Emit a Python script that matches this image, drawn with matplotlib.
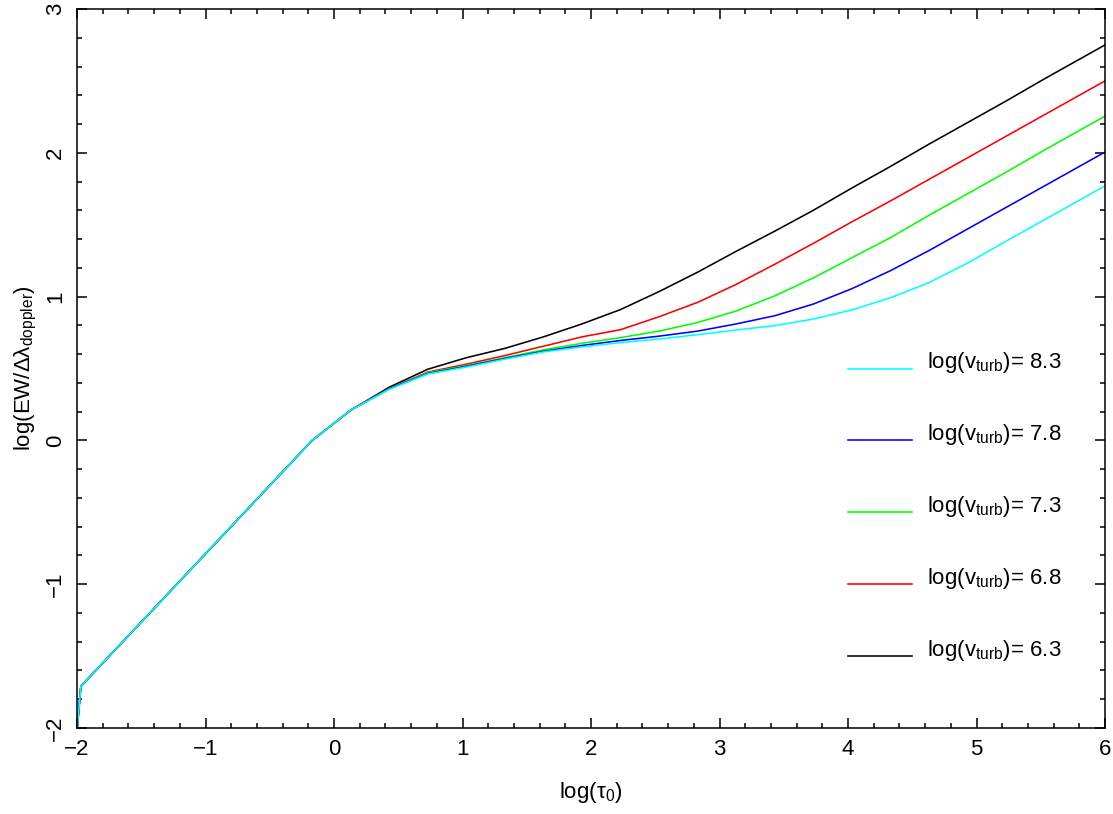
import matplotlib
matplotlib.use("Agg")
import matplotlib.pyplot as plt
from matplotlib.ticker import MultipleLocator

plt.rcParams['font.family'] = ['Liberation Sans', 'DejaVu Sans']
plt.rcParams['mathtext.fontset'] = 'custom'
plt.rcParams['mathtext.rm'] = 'Liberation Sans'
plt.rcParams['mathtext.it'] = 'Liberation Sans:italic'
plt.rcParams['mathtext.default'] = 'rm'

# log(tau_0) grid
log_tau = [-2.00, -1.97, -1.67, -1.37, -1.07, -0.77, -0.47, -0.17, 0.13, 0.43, 0.73,
           1.03, 1.33, 1.63, 1.93, 2.23, 2.53, 2.83, 3.13, 3.43, 3.73, 4.03, 4.33,
           4.63, 4.93, 5.23, 5.53, 5.83, 6.13]

common = [-2.02, -1.71, -1.425, -1.14, -0.855, -0.57, -0.285, 0.00, 0.21]

ew_63 = common + [0.37, 0.495, 0.575, 0.64, 0.72, 0.81, 0.91, 1.035, 1.17, 1.315, 1.455,
                  1.60, 1.755, 1.905, 2.06, 2.21, 2.36, 2.515, 2.665, 2.815]
ew_68 = common + [0.36, 0.475, 0.53, 0.59, 0.655, 0.72, 0.77, 0.86, 0.96, 1.085, 1.225,
                  1.37, 1.52, 1.665, 1.815, 1.965, 2.115, 2.265, 2.415, 2.565]
ew_73 = common + [0.36, 0.47, 0.52, 0.575, 0.63, 0.675, 0.715, 0.76, 0.82, 0.90, 1.005,
                  1.13, 1.27, 1.41, 1.565, 1.715, 1.865, 2.02, 2.17, 2.32]
ew_78 = common + [0.358, 0.465, 0.515, 0.57, 0.62, 0.66, 0.695, 0.725, 0.76, 0.81, 0.867,
                  0.948, 1.055, 1.18, 1.32, 1.47, 1.62, 1.77, 1.92, 2.07]
ew_83 = common + [0.355, 0.462, 0.51, 0.565, 0.615, 0.65, 0.68, 0.705, 0.735, 0.768, 0.798,
                  0.844, 0.907, 0.992, 1.097, 1.233, 1.385, 1.535, 1.685, 1.835]

series = [(ew_63, 'black', '6.3'), (ew_68, '#ff0000', '6.8'), (ew_73, '#00ff00', '7.3'),
          (ew_78, '#0000ff', '7.8'), (ew_83, '#00ffff', '8.3')]

FS = 16

fig = plt.figure(figsize=(11.13, 8.14), dpi=100)
ax = fig.add_axes([77/1113, 1-728/814, (1105-77)/1113, (728-9)/814])

for ys, c, lab in series:
    ax.plot(log_tau, ys, color=c, lw=1.15, solid_joinstyle='miter')

# manual legend
leg_y = [-1.5, -1.0, -0.5, 0.0, 0.5]
for (ys, c, lab), yy in zip(series, leg_y):
    ax.plot([4.0, 4.5], [yy, yy], color=c, lw=1.15)
    ax.text(4.615, yy + 0.04, r'log(v$_{\mathrm{turb}}$)= ' + lab, fontsize=FS,
            va='center', ha='left')

ax.set_xlim(-2, 6)
ax.set_ylim(-2, 3)
ax.xaxis.set_major_locator(MultipleLocator(1))
ax.xaxis.set_minor_locator(MultipleLocator(0.2))
ax.yaxis.set_major_locator(MultipleLocator(1))
ax.yaxis.set_minor_locator(MultipleLocator(0.2))
ax.tick_params(which='both', direction='in', top=True, right=True, width=1.1,
               labelsize=FS)
ax.tick_params(which='major', length=7.2)
ax.tick_params(which='minor', length=3.6)
ax.tick_params(axis='x', pad=8)
ax.tick_params(axis='y', pad=8)
for lbl in ax.get_yticklabels():
    lbl.set_rotation(90)
    lbl.set_va('center')
for s in ax.spines.values():
    s.set_linewidth(1.1)

ax.set_xlabel('log(τ$_0$)', fontsize=FS, labelpad=14)
ax.set_ylabel('log(EW/Δλ$_{\\mathrm{doppler}}$)', fontsize=FS, labelpad=4)

fig.savefig('out.png', dpi=100)
